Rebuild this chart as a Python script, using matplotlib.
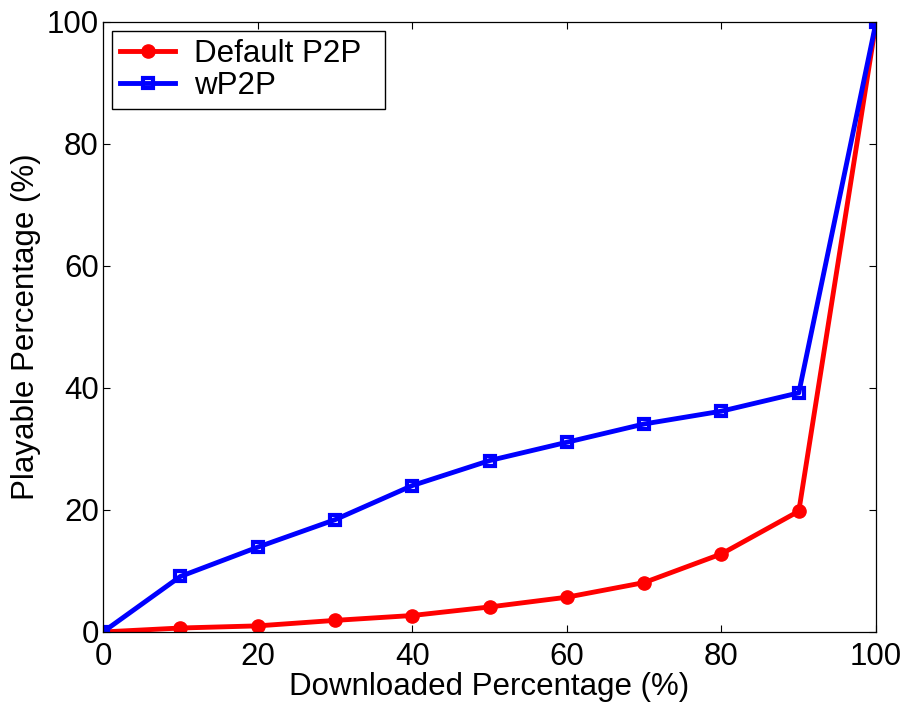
import matplotlib
matplotlib.use("Agg")
import matplotlib.pyplot as plt

plt.rcParams['font.family'] = ['Liberation Sans', 'DejaVu Sans']

downloaded = [0, 10, 20, 30, 40, 50, 60, 70, 80, 90, 100]
default_p2p = [0, 0.65, 1.0, 1.9, 2.7, 4.1, 5.7, 8.1, 12.8, 19.8, 100]
wp2p = [0, 9.1, 13.9, 18.4, 24.0, 28.1, 31.1, 34.1, 36.2, 39.2, 100]

FS = 22.5

fig = plt.figure(figsize=(9.06, 7.04), dpi=100)
ax = fig.add_axes([0.1137, 0.1023, 0.8533, 0.8665])

ax.plot(downloaded, default_p2p, color='red', lw=3.5, marker='o', ms=9.5,
        label='Default P2P')
ax.plot(downloaded, wp2p, color='blue', lw=3.5, marker='s', ms=7.5,
        mfc='none', mew=3, label='wP2P')

ax.set_xlim(0, 100)
ax.set_ylim(0, 100)
ax.set_xticks([0, 20, 40, 60, 80, 100])
ax.set_yticks([0, 20, 40, 60, 80, 100])
for s in ax.spines.values():
    s.set_linewidth(0.9)
ax.tick_params(direction='in', top=True, right=True, labelsize=FS, length=5,
               width=0.8)
ax.tick_params(axis='x', pad=7)
ax.tick_params(axis='y', pad=3)
ax.set_xlabel('Downloaded Percentage (%)', fontsize=FS, labelpad=0)
ax.set_ylabel('Playable Percentage (%)', fontsize=FS, labelpad=4)

# legend box a bit wider / flatter like the original
leg = ax.legend(['Default P2P  ', 'wP2P'], loc='upper left', fontsize=FS,
                fancybox=False, framealpha=1, edgecolor='black',
                borderaxespad=0.3, handlelength=1.75, handletextpad=0.6,
                labelspacing=0.05, borderpad=0.25)
leg.get_frame().set_linewidth(1.0)

fig.savefig('out.png', dpi=100)
